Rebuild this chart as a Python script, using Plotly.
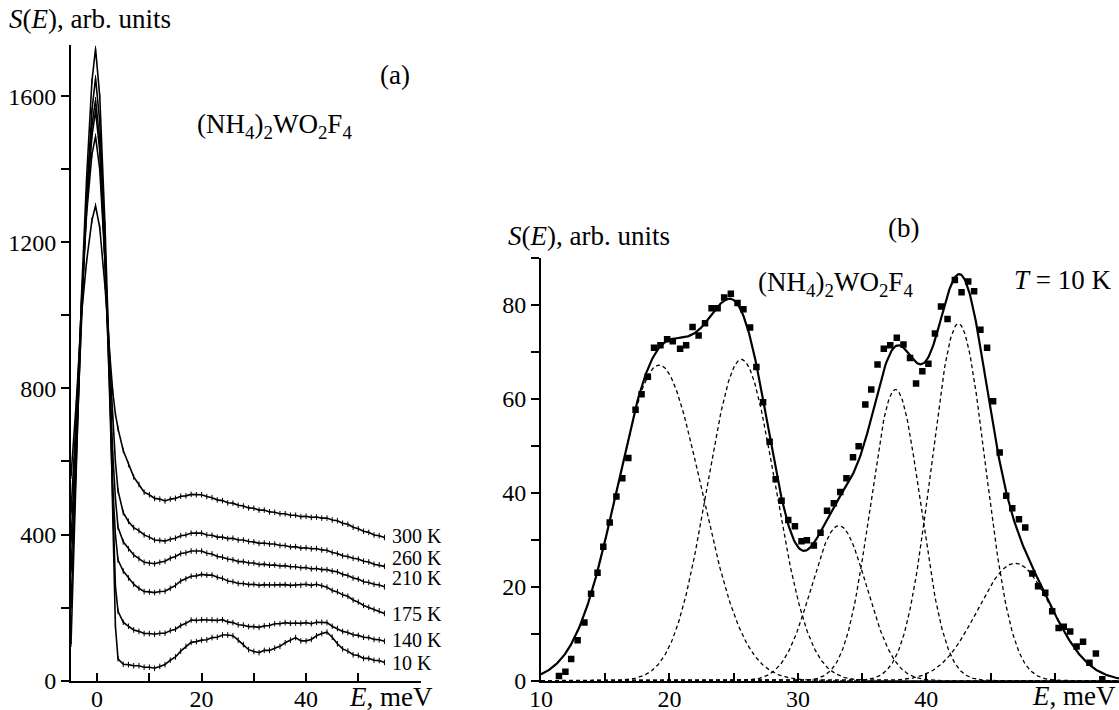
import numpy as np
import plotly.graph_objects as go

W, H = 1119, 710
FONT = "Liberation Serif"

# ---------------- Panel (a) data ----------------
E_peak = [-5, -4, -3, -2, -1, -0.3, 0.5, 1.5, 2.5, 3, 3.5, 4]
E_tail = list(range(5, 56))

temps = ["300 K", "260 K", "210 K", "175 K", "140 K", "10 K"]
temp_label_y = [396, 336, 282, 183, 111, 48]   # label centres, arb. units

peak_300 = [560, 760, 1000, 1150, 1260, 1300, 1240, 1080, 880, 790, 730, 690]
peak_260 = [460, 720, 1030, 1280, 1440, 1490, 1400, 1150, 850, 720, 600, 520]
peak_210 = [380, 680, 1030, 1300, 1490, 1560, 1450, 1150, 800, 620, 500, 420]
peak_175 = [300, 640, 1020, 1320, 1520, 1590, 1480, 1150, 760, 530, 400, 330]
peak_140 = [200, 600, 1000, 1330, 1560, 1650, 1530, 1200, 750, 480, 260, 190]
peak_10 = [100, 560, 1050, 1380, 1640, 1730, 1600, 1250, 800, 450, 150, 60]

tail_300 = [630, 592, 558, 537, 516, 509, 499, 497, 492, 497, 499, 505, 506, 510, 509, 509, 504, 501, 495,
            493, 487, 486, 480, 478, 473, 472, 467, 467, 462, 461, 457, 457, 453, 453, 449, 450, 447, 448,
            445, 445, 440, 438, 431, 428, 420, 416, 409, 406, 399, 397, 392]
tail_260 = [460, 436, 419, 411, 399, 393, 385, 384, 382, 387, 390, 397, 399, 404, 403, 404, 399, 398, 393,
            393, 389, 390, 385, 385, 381, 380, 376, 377, 374, 374, 370, 370, 366, 367, 363, 364, 361, 362,
            358, 357, 351, 348, 342, 340, 335, 333, 327, 325, 319, 317, 313]
tail_210 = [380, 361, 344, 334, 324, 322, 320, 324, 327, 335, 340, 348, 350, 355, 354, 355, 349, 347, 340,
            338, 333, 331, 326, 326, 322, 322, 318, 319, 316, 317, 314, 315, 312, 312, 309, 310, 306, 307,
            304, 304, 300, 298, 291, 288, 281, 278, 271, 269, 264, 262, 257]
tail_175 = [300, 281, 264, 253, 244, 243, 241, 244, 245, 253, 261, 273, 279, 286, 287, 291, 289, 289, 283,
            280, 273, 271, 266, 266, 263, 264, 261, 263, 262, 263, 262, 263, 261, 262, 261, 264, 261, 264,
            260, 256, 247, 243, 235, 231, 221, 215, 206, 201, 195, 191, 184]
tail_140 = [160, 149, 139, 135, 129, 129, 127, 130, 130, 137, 141, 151, 157, 166, 165, 167, 166, 167, 165,
            167, 161, 159, 153, 152, 148, 148, 146, 150, 151, 156, 156, 159, 157, 158, 157, 159, 156, 160,
            160, 159, 149, 143, 135, 132, 126, 124, 119, 118, 113, 112, 108]
tail_10 = [45, 44, 41, 41, 37, 37, 34, 39, 44, 56, 65, 81, 94, 105, 107, 111, 112, 118, 119, 125, 125, 123,
           111, 99, 85, 80, 77, 83, 83, 89, 94, 104, 111, 118, 109, 109, 113, 123, 129, 133, 119, 101, 87,
           81, 71, 69, 61, 61, 56, 55, 50]

curves_a = [
    (peak_300, tail_300), (peak_260, tail_260), (peak_210, tail_210),
    (peak_175, tail_175), (peak_140, tail_140), (peak_10, tail_10),
]

# ---------------- Panel (b) data ----------------
E_pts = [11.4, 11.9, 12.35, 12.85, 13.38, 13.9, 14.4, 14.85, 15.35, 15.87, 16.33, 16.8, 17.36, 17.83,
         18.32, 18.8, 19.3, 19.82, 20.26, 20.83, 21.3, 21.8, 22.27, 22.77, 23.28, 23.75, 24.26, 24.78,
         25.3, 25.76, 26.28, 26.77, 27.29, 27.8, 28.27, 28.73, 29.25, 29.77, 30.28, 30.7, 31.24, 31.76,
         32.27, 32.8, 33.3, 33.78, 34.29, 34.73, 35.25, 35.71, 36.2, 36.69, 37.19, 37.7, 38.22, 38.73,
         39.2, 39.69, 40.16, 40.67, 41.14, 41.65, 42.22, 42.74, 43.26, 43.72, 44.21, 44.73, 45.2, 45.71,
         46.22, 46.69, 47.21, 47.7, 48.25, 48.7, 49.26, 49.8, 50.3, 50.7, 51.2, 51.7, 52.2, 52.7, 53.2,
         53.7]
S_pts = [1.0, 1.9, 4.6, 8.6, 12.4, 18.5, 23.0, 28.5, 33.7, 39.2, 43.1, 47.4, 57.7, 61.0,
         64.7, 70.9, 71.4, 72.7, 72.3, 70.7, 71.4, 75.3, 73.5, 76.1, 79.3, 79.3, 81.6, 82.4,
         80.4, 79.1, 75.2, 66.8, 59.3, 50.9, 42.9, 38.3, 34.2, 32.9, 29.7, 29.9, 28.8, 31.5,
         36.2, 37.8, 40.2, 43.1, 47.6, 49.9, 58.8, 62.0, 67.3, 70.7, 71.4, 73.0, 71.6, 68.7,
         63.3, 65.9, 67.5, 73.9, 79.7, 77.0, 85.3, 82.7, 85.0, 82.9, 74.7, 70.9, 59.5, 48.6,
         39.4, 36.7, 34.4, 32.6, 22.8, 20.1, 18.7, 14.8, 11.2, 11.5, 10.5, 7.3, 8.3, 3.8, 5.8,
         0.3]

# Gaussian fit components (centre, amplitude, sigma)
g_centres = [19.2, 25.6, 33.2, 37.6, 42.5, 46.9]
g_amps = [67.2, 68.4, 33.0, 62.0, 76.0, 25.0]
g_sigmas = [3.3, 2.65, 2.15, 1.95, 2.1, 2.9]

E_fit = np.linspace(10, 55, 600)
comps = [a * np.exp(-(E_fit - c) ** 2 / (2 * s ** 2)) for c, a, s in zip(g_centres, g_amps, g_sigmas)]
total = np.sum(comps, axis=0)

# ---------------- Figure ----------------
fig = go.Figure()

for (pk, tl) in curves_a:
    fig.add_trace(go.Scatter(x=E_peak + E_tail, y=pk + tl, mode="lines+markers",
                             line=dict(color="black", width=1.6),
                             marker=dict(symbol="line-ns", size=4, line=dict(color="black", width=1)),
                             xaxis="x", yaxis="y", showlegend=False, hoverinfo="skip"))

for comp in comps:
    fig.add_trace(go.Scatter(x=E_fit, y=comp, mode="lines",
                             line=dict(color="black", width=1.3, dash="4px,3px"),
                             xaxis="x2", yaxis="y2", showlegend=False, hoverinfo="skip"))

fig.add_trace(go.Scatter(x=E_fit, y=total, mode="lines", line=dict(color="black", width=2.2),
                         xaxis="x2", yaxis="y2", showlegend=False, hoverinfo="skip"))
fig.add_trace(go.Scatter(x=E_pts, y=S_pts, mode="markers",
                         marker=dict(symbol="square", size=6.5, color="black"),
                         xaxis="x2", yaxis="y2", showlegend=False, hoverinfo="skip"))


def px(x):
    return x / W


def py(y):
    return 1 - y / H


tickfont = dict(family=FONT, size=24, color="black")
common = dict(showline=True, linewidth=2, linecolor="black", showgrid=False, zeroline=False,
              tickwidth=1.6, tickcolor="black", ticklen=8, tickfont=tickfont, tickmode="array",
              automargin=False)

fig.update_layout(
    template="none",
    width=W, height=H,
    margin=dict(l=0, r=0, t=0, b=0, pad=0),
    paper_bgcolor="white", plot_bgcolor="white",
    font=dict(family=FONT, color="black"),
    xaxis=dict(domain=[px(71), px(421)], range=[-5, 62], anchor="y", ticks="inside",
               ticklabelstandoff=-5,
               tickvals=[0, 10, 20, 30, 40, 50], ticktext=["0", "", "20", "", "40", ""], **common),
    yaxis=dict(domain=[py(680.7), py(45)], range=[0, 1740], anchor="x", ticks="outside",
               tickvals=list(range(0, 1601, 200)),
               ticktext=["0", "", "400", "", "800", "", "1200", "", "1600"], **common),
    xaxis2=dict(domain=[px(541), 1.0], range=[10, 55], anchor="y2", ticks="inside",
                ticklabelstandoff=-5,
                tickvals=list(range(10, 51, 5)),
                ticktext=["10", "", "20", "", "30", "", "40", "", ""], **common),
    yaxis2=dict(domain=[py(680.7), py(258)], range=[0, 90], anchor="x2", ticks="outside",
                tickvals=list(range(0, 91, 10)),
                ticktext=["0", "", "20", "", "40", "", "60", "", "80", ""], **common),
)

txt = dict(family=FONT, size=27, color="black")
ann = [
    dict(text="<i>S</i>(<i>E</i>), arb. units", x=px(7), y=py(19), xanchor="left", yanchor="middle"),
    dict(text="(a)", x=px(395), y=py(75), xanchor="center", yanchor="middle"),
    dict(text="(NH<sub>4</sub>)<sub>2</sub>WO<sub>2</sub>F<sub>4</sub>", x=px(195), y=py(126),
         xanchor="left", yanchor="middle"),
    dict(text="<i>E</i>, meV", x=px(347), y=py(697), xanchor="left", yanchor="middle"),
    dict(text="<i>S</i>(<i>E</i>), arb. units", x=px(506), y=py(236), xanchor="left", yanchor="middle"),
    dict(text="(b)", x=px(903), y=py(228), xanchor="center", yanchor="middle"),
    dict(text="(NH<sub>4</sub>)<sub>2</sub>WO<sub>2</sub>F<sub>4</sub>", x=px(756), y=py(284),
         xanchor="left", yanchor="middle"),
    dict(text="<i>T</i> = 10 K", x=px(1012), y=py(280), xanchor="left", yanchor="middle"),
    dict(text="<i>E</i>, meV", x=px(1118), y=py(696), xanchor="right", yanchor="middle"),
]
annotations = [dict(a, xref="paper", yref="paper", showarrow=False, font=txt) for a in ann]

for label, ly in zip(temps, temp_label_y):
    annotations.append(dict(text=label, x=56.0, y=ly, xref="x", yref="y", xanchor="left",
                            yanchor="middle", showarrow=False,
                            font=dict(family=FONT, size=20, color="black")))

fig.update_layout(annotations=annotations)

fig.write_html("out.html", config={"displayModeBar": False},
               post_script="document.body.style.margin='0px';document.body.style.overflow='hidden';")
